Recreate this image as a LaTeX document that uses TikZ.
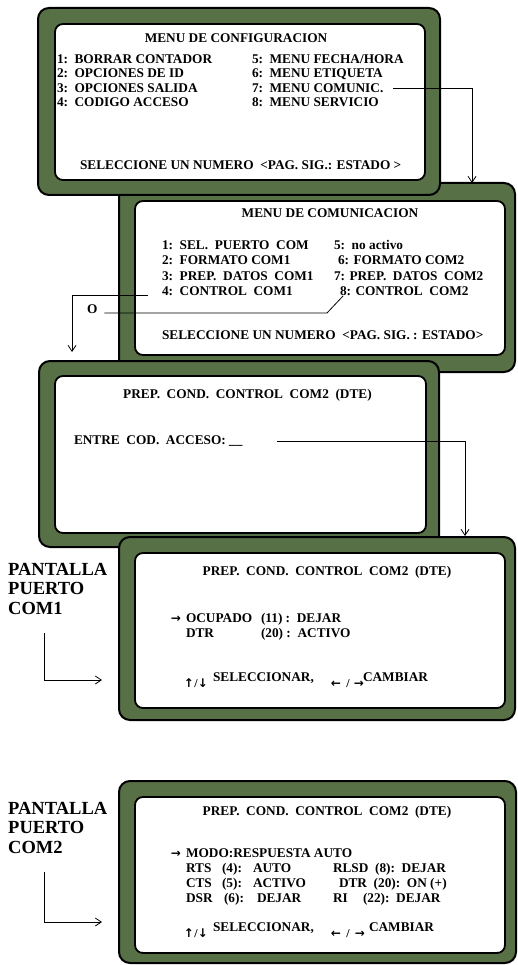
\documentclass[tikz,border=0pt]{standalone}
\usepackage{fontspec}
\setmainfont{Liberation Serif}
\newfontfamily\symfont{DejaVu Sans}
\usetikzlibrary{arrows.meta}
\definecolor{panelgreen}{RGB}{88,112,70}
\newcommand\cg{\hspace{6.5pt}}
\begin{document}
\begin{tikzpicture}[x=1pt,y=-1pt,
  frame/.style={rectangle, draw=black, line width=2pt, fill=panelgreen, rounded corners=11pt, inner sep=0pt, outer sep=0pt},
  screen/.style={rectangle, draw=black, line width=1.8pt, fill=white, rounded corners=8pt, inner sep=0pt, outer sep=0pt},
  txt/.style={font=\bfseries\fontsize{13.3}{16}\selectfont, inner sep=0pt, outer sep=0pt, anchor=base west},
  ttl/.style={txt, anchor=base},
  side/.style={font=\bfseries\fontsize{18.5}{20}\selectfont, inner sep=0pt, anchor=base west},
  sym/.style={font=\symfont\bfseries\fontsize{12}{14}\selectfont, inner sep=0pt, anchor=base},
  slash/.style={font=\bfseries\fontsize{12}{14}\selectfont, inner sep=0pt, anchor=base},
  link/.style={line width=0.8pt},
  flow/.style={link, -{Straight Barb[length=6pt,width=8pt]}},
]
\useasboundingbox (0,0) rectangle (517,965);

% ---- panel frames (stacking order matters) ----
\node[frame, minimum width=396pt, minimum height=189pt] (f2) at (317,277.5) {};
\node[screen, minimum width=370pt, minimum height=154pt] (s2) at (320,278) {};
\node[frame, minimum width=402pt, minimum height=187pt] (f1) at (239,101.5) {};
\node[screen, minimum width=370pt, minimum height=156pt] (s1) at (240,102) {};
\node[frame, minimum width=400pt, minimum height=186pt] (f3) at (239,454) {};
\node[screen, minimum width=371pt, minimum height=157pt] (s3) at (240.5,454.5) {};
\node[frame, minimum width=396pt, minimum height=183pt] (f4) at (317,628.5) {};
\node[screen, minimum width=370pt, minimum height=155pt] (s4) at (320,630.5) {};
\node[frame, minimum width=397pt, minimum height=182pt] (f5) at (317.5,872) {};
\node[screen, minimum width=370pt, minimum height=156pt] (s5) at (320,875) {};

% ---- configuration menu ----
\node[ttl] (h1) at (236,43) {MENU DE CONFIGURACION};
\node[txt] (m11) at (57,63.3) {1:\cg BORRAR CONTADOR};
\node[txt] (m12) at (57,77.7) {2:\cg OPCIONES DE ID};
\node[txt] (m13) at (57,92.3) {3:\cg OPCIONES SALIDA};
\node[txt] (m14) at (57,106.7) {4:\cg CODIGO ACCESO};
\node[txt] (m15) at (252,63.3) {5:\cg MENU FECHA/HORA};
\node[txt] (m16) at (252,77.7) {6:\cg MENU ETIQUETA};
\node[txt] (m17) at (252,92.3) {7:\cg MENU COMUNIC.};
\node[txt] (m18) at (252,106.7) {8:\cg MENU SERVICIO};
\node[txt] (q1) at (80,170) {SELECCIONE UN NUMERO~~<PAG. SIG.: ESTADO >};

% ---- communication menu ----
\node[ttl] (h2) at (330,218) {MENU DE COMUNICACION};
\node[txt] (m21) at (162,250) {1:~~SEL.~~PUERTO~~COM};
\node[txt] (m22) at (162,265) {2:~~FORMATO COM1};
\node[txt] (m23) at (162,280) {3:~~PREP.~~DATOS~~COM1};
\node[txt] (m24) at (162,295) {4:~~CONTROL~~COM1};
\node[txt] (m25) at (334,250) {5:~~no activo};
\node[txt] (m26) at (338,265) {6: FORMATO COM2};
\node[txt] (m27) at (334,280) {7: PREP.~~DATOS~~COM2};
\node[txt] (m28) at (340,295) {8: CONTROL~~COM2};
\node[txt] (q2) at (162,339) {SELECCIONE UN NUMERO~~<PAG. SIG. : ESTADO>};
\node[txt] (olbl) at (87,313) {O};

% ---- access code screen ----
\node[ttl] (h3) at (247.5,398) {PREP.~~COND.~~CONTROL~~COM2~~(DTE)};
\node[txt] (m31) at (74,444) {ENTRE~~COD.~~ACCESO: \_\_};

% ---- COM1 control screen ----
\node[ttl] (h4) at (327,575) {PREP.~~COND.~~CONTROL~~COM2~~(DTE)};
\node[sym] (a41) at (176,622) {→};
\node[txt] (m41) at (186,622) {OCUPADO};
\node[txt] (m42) at (261,622) {(11)~:~~DEJAR};
\node[txt] (m43) at (186,637) {DTR};
\node[txt] (m44) at (261,637) {(20)~:~~ACTIVO};
\node[sym] (u4) at (189,687) {↑};
\node[slash] (v4) at (196,687) {/};
\node[sym] (d4) at (203,687) {↓};
\node[txt] (m45) at (213,681) {SELECCIONAR,};
\node[sym] (l4) at (336,687) {←};
\node[slash] (w4) at (348,687) {/};
\node[sym] (r4) at (359,687) {→};
\node[txt] (m46) at (363,681) {CAMBIAR};

% ---- COM2 control screen ----
\node[ttl] (h5) at (327,815) {PREP.~~COND.~~CONTROL~~COM2~~(DTE)};
\node[sym] (a51) at (176,857) {→};
\node[txt] (m51) at (186,857) {MODO:RESPUESTA AUTO};
\node[txt] (m52) at (186,872) {RTS};
\node[txt] (m53) at (222,872) {(4):};
\node[txt] (m53b) at (253,872) {AUTO};
\node[txt] (m54) at (333,872) {RLSD~~(8):~~DEJAR};
\node[txt] (m55) at (186,887) {CTS};
\node[txt] (m56) at (222,887) {(5):};
\node[txt] (m56b) at (253,887) {ACTIVO};
\node[txt] (m57) at (339,887) {DTR~~(20):~~ON (+)};
\node[txt] (m58) at (186,902) {DSR};
\node[txt] (m59) at (224,902) {(6):};
\node[txt] (m59b) at (257,902) {DEJAR};
\node[txt] (m5a) at (333,902) {RI};
\node[txt] (m5b) at (363,902) {(22):~~DEJAR};
\node[sym] (u5) at (189,937) {↑};
\node[slash] (v5) at (196,937) {/};
\node[sym] (d5) at (203,937) {↓};
\node[txt] (m5c) at (213,931) {SELECCIONAR,};
\node[sym] (l5) at (336,937) {←};
\node[slash] (w5) at (348,937) {/};
\node[sym] (r5) at (360,937) {→};
\node[txt] (m5d) at (369,931) {CAMBIAR};

% ---- side captions ----
\node[side] (p1) at (8,575) {PANTALLA};
\node[side] (p2) at (8,594.5) {PUERTO};
\node[side] (p3) at (8,614) {COM1};
\node[side] (p4) at (8,814) {PANTALLA};
\node[side] (p5) at (8,833.5) {PUERTO};
\node[side] (p6) at (8,853) {COM2};

% ---- connectors ----
\coordinate (c1) at (472,183);
\draw[flow] ([xshift=10pt]m17.east) -| (c1);
\coordinate (c2) at (72,352);
\draw[flow] ([xshift=-14pt]m24.base west) -| (c2);
\coordinate (k) at (327,313);
\draw[link] ([xshift=7pt]olbl.base east) -- (k) -- ([xshift=3pt,yshift=-1pt]m28.base west);
\coordinate (c4) at (465,536);
\draw[flow] ([xshift=35pt,yshift=3pt]m31.base east) -| (c4);
\coordinate (s6) at (44,633);
\coordinate (e6) at (102,680);
\draw[flow] (s6) |- (e6);
\coordinate (s7) at (44,872);
\coordinate (e7) at (102,922);
\draw[flow] (s7) |- (e7);
\end{tikzpicture}
\end{document}
